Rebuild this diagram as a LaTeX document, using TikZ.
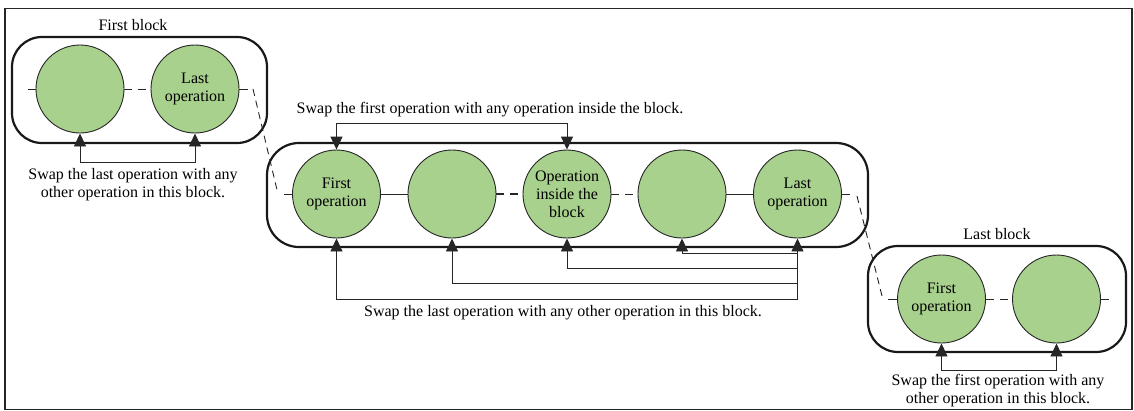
\documentclass[tikz,border=0pt]{standalone}
\usepackage{fontspec}
\setmainfont{Liberation Serif}
\usetikzlibrary{arrows.meta}
\definecolor{opgreen}{RGB}{169,209,142}
\begin{document}
\begin{tikzpicture}[x=1pt,y=-1pt,
  every node/.style={font=\fontsize{16}{18}\selectfont},
  op/.style={circle, draw=black!85, line width=0.9pt, fill=opgreen, minimum size=88pt, inner sep=0pt, align=center},
  blockbox/.style={draw=black!90, line width=2.2pt, rounded corners=30pt, inner sep=0pt},
  wire/.style={line width=0.9pt, draw=black!85},
  dwire/.style={wire, dash pattern=on 8pt off 6pt},
  bdwire/.style={draw=black!85, line width=2pt, dash pattern=on 8pt off 6pt},
  link/.style={draw=black!85, line width=0.9pt, dash pattern=on 7pt off 5pt},
  swap/.style={wire, {Triangle[width=12pt,length=13pt]}-{Triangle[width=12pt,length=13pt]}},
  swapin/.style={wire, {Triangle[width=12pt,length=13pt]}-},
  lbl/.style={align=center, inner sep=0pt}
]
\useasboundingbox (0,0) rectangle (1134,410);
% outer frame
\draw[line width=1.8pt, black!85] (5,8.5) rectangle (1132,409.5);

% blocks
\node[blockbox, minimum width=255pt, minimum height=106pt] (fb) at (139.5,90) {};
\node[blockbox, minimum width=601pt, minimum height=104pt, rounded corners=32pt] (mb) at (567.5,195) {};
\node[blockbox, minimum width=258pt, minimum height=106pt] (lb) at (997,299) {};

% operations
\node[op] (f1) at (80,89) {};
\node[op] (f2) at (195,89) {Last\\operation};
\node[op] (m1) at (336.5,194) {First\\operation};
\node[op] (m2) at (452,194) {};
\node[op] (m3) at (567,194) {Operation\\inside the\\block};
\node[op] (m4) at (682,194) {};
\node[op] (m5) at (797.5,194) {Last\\operation};
\node[op] (l1) at (941.5,299) {First\\operation};
\node[op] (l2) at (1056.5,299) {};

% sequence wires
\draw[wire] (f1.west) -- ++(-8,0);
\draw[dwire] (f1.east) -- (f2.west);
\draw[wire] (f2.east) -- ++(9,0);

\draw[wire] (m1.west) -- ++(-8,0);
\draw[wire] (m1.east) -- (m2.west);
\draw[bdwire] (m2.east) -- (m3.west);
\draw[dwire] (m3.east) -- (m4.west);
\draw[wire] (m4.east) -- (m5.west);
\draw[wire] (m5.east) -- ++(8,0);

\draw[wire] (l1.west) -- ++(-9,0);
\draw[dwire] (l1.east) -- (l2.west);
\draw[wire] (l2.east) -- ++(8,0);

% links between blocks
\coordinate (ja) at (253,89);
\coordinate (jb) at (278,194);
\coordinate (jc) at (857,196);
\coordinate (jd) at (882,296);
\draw[link] (ja) -- (jb);
\draw[link] (jc) -- (jd);

% labels
\node[lbl] (tfb) at (133,25) {First block};
\node[lbl] (tfs) at (133,185) {Swap the last operation with any\\other operation in this block.};
\node[lbl] (tmt) at (490,110) {Swap the first operation with any operation inside the block.};
\node[lbl] (tmb) at (563,313) {Swap the last operation with any other operation in this block.};
\node[lbl] (tlb) at (997,234) {Last block};
\node[lbl] (tls) at (998,391) {Swap the first operation with any\\other operation in this block.};

% swap arrows
\coordinate (y1) at (0,253);
\coordinate (y2) at (0,268);
\coordinate (y3) at (0,283);
\coordinate (y4) at (0,299);
\draw[swap] (f1.south) -- ++(0,29) -| (f2.south);
\draw[swap] (m1.north) -- ++(0,-26.5) -| (m3.north);
\draw[swap] (m1.south) -- (m1.south |- y4) -| (m5.south);
\draw[swapin] (m2.south) -- (m2.south |- y3) -- (m5.south |- y3);
\draw[swapin] (m3.south) -- (m3.south |- y2) -- (m5.south |- y2);
\draw[swapin] (m4.south) -- (m4.south |- y1) -- (m5.south |- y1);
\draw[swap] (l1.south) -- ++(0,27) -| (l2.south);
\end{tikzpicture}
\end{document}
